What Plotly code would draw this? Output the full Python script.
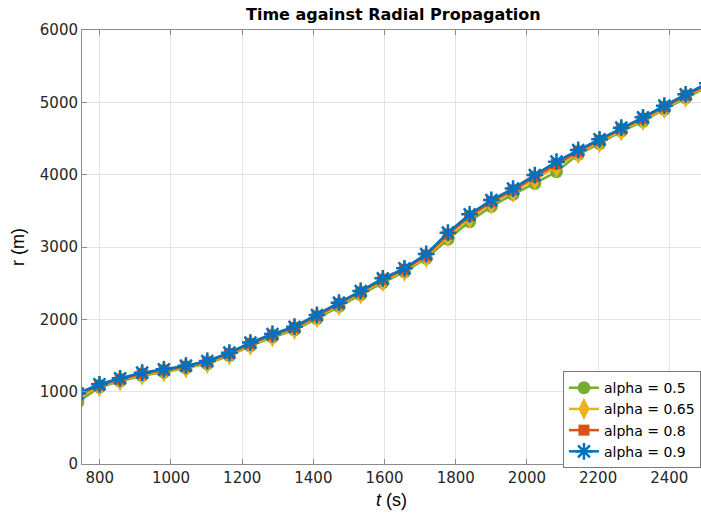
import plotly.graph_objects as go

# Sample times (s)
t = [738, 799, 857, 919, 980, 1042, 1102, 1164, 1223, 1285, 1347, 1410, 1472, 1533,
     1595, 1656, 1717, 1778, 1839, 1900, 1961, 2022, 2083, 2144, 2204, 2265, 2326,
     2386, 2446, 2507]

# Radial propagation r (m) for each alpha
r_09 = [975, 1102, 1185, 1263, 1309, 1359, 1424, 1539, 1678, 1797, 1898, 2060, 2230, 2392,
        2567, 2705, 2903, 3198, 3452, 3650, 3808, 3995, 4180, 4341, 4489, 4650, 4793,
        4954, 5111, 5265]
r_08 = [955, 1088, 1172, 1250, 1297, 1348, 1411, 1526, 1664, 1783, 1884, 2045, 2215, 2377,
        2550, 2690, 2886, 3175, 3428, 3627, 3787, 3968, 4150, 4323, 4473, 4634, 4777,
        4938, 5095, 5250]
r_065 = [915, 1075, 1158, 1236, 1283, 1335, 1397, 1512, 1648, 1767, 1868, 2028, 2198, 2360,
         2530, 2672, 2866, 3150, 3400, 3600, 3762, 3935, 4110, 4300, 4452, 4615, 4757,
         4920, 5077, 5232]
r_05 = [855, 1062, 1145, 1223, 1269, 1324, 1384, 1499, 1633, 1752, 1853, 2010, 2180, 2342,
        2507, 2655, 2843, 3108, 3352, 3560, 3728, 3880, 4040, 4281, 4429, 4600, 4738,
        4904, 5061, 5215]

labels = ["alpha = 0.5", "alpha = 0.65", "alpha = 0.8", "alpha = 0.9"]
series = [r_05, r_065, r_08, r_09]
colors = ["#77AC30", "#EDB120", "#D95319", "#0072BD"]
symbols = ["circle", "diamond-tall", "square", "asterisk-open"]
sizes = [13, 16, 11, 14]

fig = go.Figure()
for lab, r, c, s, sz in zip(labels, series, colors, symbols, sizes):
    fig.add_trace(go.Scatter(
        x=t, y=r, name=lab, mode="lines+markers",
        line=dict(color=c, width=2.5),
        marker=dict(symbol=s, size=sz, color=c,
                    line=dict(color=c, width=2.5 if s == "asterisk-open" else 0)),
    ))

axis_col = "#8c8c8c"
tick_font = dict(family="DejaVu Sans", size=15, color="#262626")

fig.update_layout(
    width=701, height=517,
    margin=dict(l=82, r=0, t=30, b=53),
    paper_bgcolor="white", plot_bgcolor="white",
    title=dict(text="<b>Time against Radial Propagation</b>",
               font=dict(family="DejaVu Sans", size=16, color="#000000"),
               xref="paper", x=0.503, xanchor="center",
               yref="container", y=1 - 14 / 517, yanchor="middle"),
    showlegend=True,
    legend=dict(x=0.777, y=0.214, xanchor="left", yanchor="top",
                bgcolor="white", bordercolor="#7a7a7a", borderwidth=1,
                font=dict(family="DejaVu Sans", size=14, color="#000000"),
                itemwidth=30, tracegroupgap=0),
    xaxis=dict(range=[750, 2489], dtick=200, tick0=0,
               showgrid=True, gridcolor="#e3e3e3", gridwidth=1,
               zeroline=False, showline=True, linecolor=axis_col, linewidth=1,
               mirror="ticks", ticks="inside", ticklen=5, tickcolor=axis_col,
               tickfont=tick_font),
    yaxis=dict(range=[0, 6000], dtick=1000, tick0=0,
               showgrid=True, gridcolor="#e3e3e3", gridwidth=1,
               zeroline=False, showline=True, linecolor=axis_col, linewidth=1,
               ticks="inside", ticklen=5, tickcolor=axis_col,
               tickfont=tick_font),
    annotations=[
        dict(text="<i>t</i> (s)", xref="paper", yref="paper", x=(391 - 82) / 619, y=0,
             yshift=-(500 - 464), showarrow=False, xanchor="center", yanchor="middle",
             font=dict(family="Liberation Sans", size=18, color="#000000")),
        dict(text="r (m)", xref="paper", yref="paper", x=0, y=(464 - 247) / 434,
             xshift=-(82 - 18), showarrow=False, textangle=-90,
             xanchor="center", yanchor="middle",
             font=dict(family="Liberation Sans", size=18, color="#000000")),
    ],
)

fig.write_html("out.html")
